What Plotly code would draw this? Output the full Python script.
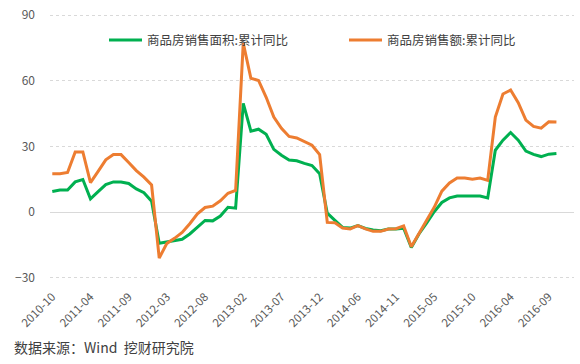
import plotly.graph_objects as go

months = []
for y in range(2010, 2017):
    for m in range(1, 13):
        if m == 1:
            continue
        if y == 2010 and m < 10:
            continue
        if y == 2016 and m > 10:
            continue
        months.append(f"{y}-{m:02d}")

area_yoy = [9.4, 10.1, 10.1, 13.8, 14.9, 6.1, 9.4, 12.6, 13.8, 13.8, 13.1, 10.6, 8.9, 5.0,
            -14.2, -13.7, -13.2, -12.4, -10.0, -6.9, -3.8, -4.0, -1.8, 2.2, 1.8,
            49.7, 37.0, 37.9, 35.6, 28.7, 26.0, 23.8, 23.5, 22.3, 21.3, 17.6,
            -0.5, -3.8, -7.0, -7.3, -6.2, -7.5, -8.2, -8.5, -7.7, -7.7, -7.4,
            -16.2, -10.0, -5.0, 0.2, 4.4, 6.5, 7.4, 7.4, 7.4, 7.4, 6.5,
            28.3, 32.9, 36.4, 32.9, 27.9, 26.4, 25.4, 26.5, 26.8]
value_yoy = [17.5, 17.5, 18.1, 27.5, 27.5, 13.5, 18.6, 23.9, 26.3, 26.3, 22.7, 19.0, 16.0, 12.4,
             -21.0, -14.3, -12.0, -9.3, -5.3, -0.8, 2.1, 2.7, 5.2, 8.6, 9.9,
             77.3, 61.2, 60.2, 52.5, 43.5, 38.3, 34.6, 33.9, 32.4, 30.6, 26.3,
             -4.7, -4.9, -7.3, -7.7, -6.2, -7.7, -8.8, -8.8, -7.7, -7.6, -6.3,
             -15.8, -9.8, -4.0, 2.2, 9.6, 13.3, 15.6, 15.6, 15.0, 15.6, 14.5,
             43.5, 54.0, 55.8, 50.0, 42.1, 39.2, 38.4, 41.3, 41.2]

tick_idx = list(range(0, len(months), 5))
tick_text = [months[i] for i in tick_idx]
y_ticks = [-30, 0, 30, 60, 90]

name_area = "商品房销售面积:累计同比"
name_value = "商品房销售额:累计同比"

x = list(range(len(months)))

fig = go.Figure()
fig.add_trace(go.Scatter(x=x, y=area_yoy, mode="lines", name=name_area, legend="legend",
                         line=dict(color="#00b050", width=3), hovertext=months))
fig.add_trace(go.Scatter(x=x, y=value_yoy, mode="lines", name=name_value, legend="legend2",
                         line=dict(color="#ed7d31", width=3), hovertext=months))

font_family = "Noto Sans CJK SC, Open Sans, sans-serif"

L, R, T, B = 50, 6, 6, 83
W, H = 580, 364
pw, ph = W - L - R, H - T - B


def px_x(p):
    return (p - L) / pw


def px_y(p):
    return (H - B - p) / ph


legend_common = dict(orientation="h", yanchor="middle", y=px_y(35), xanchor="left",
                     font=dict(size=12.5, color="#404040"), bgcolor="rgba(0,0,0,0)",
                     itemwidth=33)

fig.update_layout(
    width=W, height=H,
    margin=dict(l=L, r=R, t=T, b=B),
    paper_bgcolor="white", plot_bgcolor="white",
    font=dict(family=font_family, color="#595959", size=11),
    showlegend=True,
    legend=dict(x=px_x(104), **legend_common),
    legend2=dict(x=px_x(344), **legend_common),
    xaxis=dict(range=[-0.3, 68.3], tickmode="array", tickvals=tick_idx, ticktext=tick_text,
               tickangle=-45, showgrid=False, zeroline=False, showline=False, ticks="",
               ticklabelstandoff=6, tickfont=dict(size=11.5, color="#595959")),
    yaxis=dict(range=[-31.5, 91.5], tickvals=y_ticks, showgrid=True,
               gridcolor="#d9d9d9", griddash="dot", gridwidth=1,
               zeroline=True, zerolinecolor="#d9d9d9", zerolinewidth=1,
               ticks="", ticklabelstandoff=14, ticklabeloverflow="allow",
               tickfont=dict(size=12, color="#595959")),
)

fig.add_annotation(text="数据来源：Wind  挖财研究院", xref="paper", yref="paper",
                   x=px_x(12), y=px_y(348), xanchor="left", yanchor="middle",
                   showarrow=False, font=dict(size=14, color="#404040", family=font_family))

fig.write_html("out.html", config={"displayModeBar": False},
               post_script="document.body.style.margin='0';document.body.style.padding='0';")
